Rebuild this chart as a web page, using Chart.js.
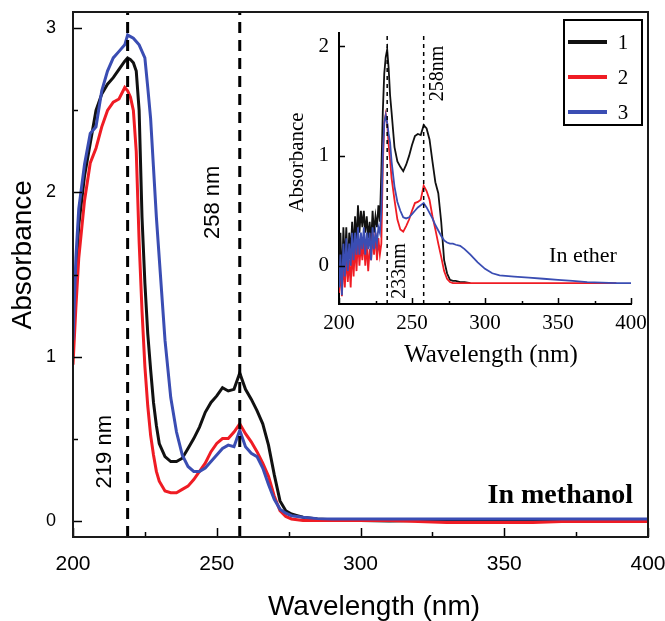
<!DOCTYPE html>
<html>
<head>
<meta charset="utf-8">
<script src="https://cdn.jsdelivr.net/npm/chart.js@4.4.1/dist/chart.umd.min.js"></script>
<style>
    body { margin: 0; background: #fff; }
    #wrap { position: relative; width: 665px; height: 621px; }
    #main { position: absolute; left: 0; top: 0; }
    #inset { position: absolute; left: 280px; top: 0; }
</style>
</head>
<body>
<div id="wrap">
    <canvas id="main" width="665" height="621"></canvas>
    <canvas id="inset" width="385" height="380"></canvas>
</div>
<script>
'use strict';

// main panel - spectra in methanol
var mainWl = [200, 201, 202, 204, 206, 208, 210, 212, 214, 216, 218, 219, 220, 221, 222, 223, 224, 225, 226, 227, 228, 229, 230,
    232, 234, 236, 238, 240, 242, 244, 246, 248, 250, 252, 254, 256, 258, 260, 262, 264, 266, 268, 270, 272, 274, 276, 278, 280,
    285, 290, 300, 310, 320, 330, 340, 350, 360, 370, 380, 390, 400];
var mainAbs1 = [1.05, 1.5, 1.8, 2.1, 2.3, 2.5, 2.6, 2.66, 2.7, 2.75, 2.8, 2.82, 2.81, 2.79, 2.74, 2.5, 1.85, 1.45, 1.14, 0.92, 0.72, 0.58, 0.47,
    0.39, 0.36, 0.36, 0.38, 0.44, 0.5, 0.57, 0.66, 0.72, 0.76, 0.81, 0.79, 0.8, 0.9, 0.8, 0.74, 0.67, 0.59, 0.46, 0.28, 0.12, 0.06, 0.04, 0.03, 0.02,
    0.01, 0.005, 0, -0.003, 0, 0, 0, 0, 0, 0, 0, 0, 0];
var mainAbs2 = [0.95, 1.3, 1.6, 1.95, 2.18, 2.27, 2.4, 2.5, 2.55, 2.57, 2.64, 2.62, 2.58, 2.5, 2.25, 1.7, 1.28, 0.94, 0.7, 0.52, 0.4, 0.3, 0.24,
    0.18, 0.17, 0.17, 0.19, 0.21, 0.25, 0.3, 0.35, 0.42, 0.47, 0.5, 0.5, 0.54, 0.59, 0.53, 0.48, 0.42, 0.35, 0.27, 0.15, 0.06, 0.025, 0.01, 0.005, 0,
    0, 0, 0, 0, -0.005, -0.012, -0.012, -0.012, -0.012, -0.005, -0.005, -0.005, -0.005];
var mainAbs3 = [1.1, 1.6, 1.9, 2.17, 2.36, 2.4, 2.62, 2.74, 2.82, 2.86, 2.9, 2.96, 2.95, 2.94, 2.92, 2.9, 2.86, 2.82, 2.64, 2.45, 2.15, 1.85, 1.6,
    1.1, 0.75, 0.54, 0.4, 0.33, 0.3, 0.3, 0.32, 0.36, 0.4, 0.44, 0.46, 0.45, 0.55, 0.45, 0.41, 0.39, 0.32, 0.22, 0.13, 0.07, 0.045, 0.03, 0.025, 0.02,
    0.012, 0.01, 0.01, 0.01, 0.01, 0.01, 0.01, 0.01, 0.01, 0.01, 0.01, 0.01, 0.01];
var mainPeaks = [219, 258];
var mainXTicks = [200, 250, 300, 350, 400];
var mainXMinor = [225, 275, 325, 375];
var mainYTicks = [0, 1, 2, 3];
var mainYMinor = [0.5, 1.5, 2.5];

// inset - same samples in ether
var insetWl = [200, 201, 202, 203, 204, 205, 206, 207, 208, 209, 210, 211, 212, 213, 214, 215, 216, 217, 218, 219, 220,
    221, 222, 223, 224, 225, 226, 227, 228, 229, 230, 231, 232, 233, 234, 235, 236,
    238, 240, 242, 244, 246, 248, 250, 252, 254, 256, 258, 260, 262, 264, 266, 268, 270, 272, 274, 276, 278, 280,
    283, 286, 290, 295, 300, 305, 310, 320, 330, 340, 350, 360, 370, 380, 390, 400];
var insetAbs1 = [-0.1, 0.3, -0.2, 0.35, 0.0, 0.35, -0.05, 0.3, 0.1, 0.4, 0.15, 0.45, 0.2, 0.55, 0.3, 0.5, 0.35, 0.5, 0.3, 0.45, 0.25,
    0.4, 0.2, 0.5, 0.3, 0.45, 0.35, 0.55, 0.4, 0.85, 1.4, 1.75, 1.9, 1.97, 1.8, 1.55, 1.4,
    1.08, 0.95, 0.9, 0.86, 0.92, 1.0, 1.1, 1.18, 1.2, 1.19, 1.28, 1.25, 1.15, 0.95, 0.76, 0.66, 0.4, 0.05, -0.07, -0.13, -0.14, -0.14,
    -0.15, -0.15, -0.16, null, null, null, null, null, null, null, null, null, null, null, null, null];
var insetAbs2 = [-0.25, -0.05, -0.28, 0.05, -0.2, 0.1, -0.15, 0.05, -0.2, 0.15, -0.1, 0.2, -0.05, 0.25, 0.0, 0.2, 0.05, 0.25, 0.0, 0.2, -0.05,
    0.15, 0.05, 0.3, 0.1, 0.3, 0.05, 0.25, 0.1, 0.2, 0.9, 1.3, 1.38, 1.3, 1.1, 0.96, 0.8,
    0.6, 0.42, 0.33, 0.31, 0.36, 0.42, 0.5, 0.57, 0.58, 0.6, 0.73, 0.68, 0.6, 0.45, 0.33, 0.2, 0.08, -0.05, -0.12, -0.15, -0.16, -0.16,
    -0.16, -0.16, -0.16, -0.16, -0.16, -0.16, -0.16, -0.16, -0.16, -0.16, -0.16, -0.16, -0.16, -0.16, -0.16, null];
var insetAbs3 = [-0.2, 0.1, -0.27, 0.2, -0.1, 0.25, -0.05, 0.2, 0.0, 0.3, 0.05, 0.3, 0.1, 0.35, 0.1, 0.3, 0.15, 0.35, 0.1, 0.3, 0.15,
    0.3, 0.05, 0.35, 0.15, 0.3, 0.2, 0.35, 0.3, 0.5, 1.0, 1.3, 1.37, 1.3, 1.2, 1.12, 0.95,
    0.72, 0.58, 0.5, 0.44, 0.43, 0.44, 0.47, 0.5, 0.53, 0.55, 0.57, 0.53, 0.48, 0.43, 0.37, 0.32, 0.27, 0.23, 0.21, 0.2, 0.2, 0.19,
    0.18, 0.15, 0.1, 0.03, -0.03, -0.07, -0.09, -0.1, -0.11, -0.12, -0.13, -0.14, -0.15, -0.155, -0.16, -0.16];
var insetPeaks = [233, 258];
var insetXTicks = [200, 250, 300, 350, 400];
var insetXMinor = [225, 275, 325, 375];
var insetYTicks = [0, 1, 2];

var seriesLabels = ['1', '2', '3'];
var seriesColors = ['#111111', '#ef1c24', '#3a4db3'];

var SANS = '"Liberation Sans", Arial, sans-serif';
var SERIF = '"Liberation Serif", "Times New Roman", serif';

function points(xs, ys) {
    return xs.map(function (x, i) { return {x: x, y: ys[i]}; });
}

function spectrum(i, xs, ys, width) {
    return {
        label: seriesLabels[i],
        data: points(xs, ys),
        borderColor: seriesColors[i],
        borderWidth: width,
        pointRadius: 0,
        tension: 0,
        fill: false,
        order: 3 - i
    };
}

function peakLine(x, yMin, yMax, width, dash) {
    return {
        data: [{x: x, y: yMin}, {x: x, y: yMax}],
        borderColor: '#000',
        borderWidth: width,
        borderDash: dash,
        pointRadius: 0,
        fill: false,
        order: 0
    };
}

function fixedTicks(list) {
    return function (scale) {
        scale.ticks = list.map(function (v) { return {value: v}; });
    };
}

// tick marks pointing into the plot, plus optional frame
var innerTicks = {
    id: 'innerTicks',
    afterDatasetsDraw: function (chart, args, o) {
        var ctx = chart.ctx, a = chart.chartArea, xs = chart.scales.x, ys = chart.scales.y;
        ctx.save();
        ctx.strokeStyle = '#000';
        ctx.lineWidth = o.width;
        ctx.beginPath();
        function xTick(v, len) {
            var p = Math.round(xs.getPixelForValue(v)) + 0.5;
            ctx.moveTo(p, a.bottom);
            ctx.lineTo(p, a.bottom - len);
        }
        function yTick(v, len) {
            var p = Math.round(ys.getPixelForValue(v)) + 0.5;
            ctx.moveTo(a.left, p);
            ctx.lineTo(a.left + len, p);
        }
        (o.xMajor || []).forEach(function (v) { xTick(v, o.majorLen); });
        (o.xMinor || []).forEach(function (v) { xTick(v, o.minorLen); });
        (o.yMajor || []).forEach(function (v) { yTick(v, o.majorLen); });
        (o.yMinor || []).forEach(function (v) { yTick(v, o.minorLen); });
        ctx.stroke();
        if (o.frame) {
            ctx.lineWidth = o.frame;
            ctx.strokeStyle = '#1a1a1a';
            ctx.strokeRect(a.left, a.top, a.right - a.left, a.bottom - a.top);
        }
        ctx.restore();
    }
};

// free text placed in data coordinates
var notes = {
    id: 'notes',
    afterDatasetsDraw: function (chart, args, o) {
        var ctx = chart.ctx, xs = chart.scales.x, ys = chart.scales.y;
        (o.items || []).forEach(function (n) {
            ctx.save();
            ctx.translate(xs.getPixelForValue(n.x), ys.getPixelForValue(n.y));
            if (n.rot) ctx.rotate(n.rot * Math.PI / 180);
            ctx.font = n.font;
            ctx.fillStyle = '#000';
            ctx.textAlign = n.align || 'center';
            ctx.textBaseline = n.baseline || 'middle';
            ctx.fillText(n.text, 0, 0);
            ctx.restore();
        });
    }
};

// boxed legend inside the inset
var boxLegend = {
    id: 'boxLegend',
    afterDraw: function (chart, args, o) {
        var ctx = chart.ctx;
        ctx.save();
        ctx.fillStyle = '#fff';
        ctx.fillRect(o.left, o.top, o.width, o.height);
        ctx.lineWidth = 2;
        ctx.strokeStyle = '#000';
        ctx.strokeRect(o.left, o.top, o.width, o.height);
        var rows = chart.data.datasets.filter(function (d) { return d.label; });
        rows.forEach(function (d, i) {
            var y = o.top + o.firstRow + i * o.rowGap;
            ctx.strokeStyle = d.borderColor;
            ctx.lineWidth = 4;
            ctx.beginPath();
            ctx.moveTo(o.left + 4, y);
            ctx.lineTo(o.left + 4 + o.lineLen, y);
            ctx.stroke();
            ctx.fillStyle = '#000';
            ctx.font = o.font;
            ctx.textAlign = 'center';
            ctx.textBaseline = 'middle';
            ctx.fillText(d.label, o.left + o.textX, y + 1);
        });
        ctx.restore();
    }
};

var MAIN_YMIN = -0.1, MAIN_YMAX = 3.1;
var mainSets = [
    spectrum(0, mainWl, mainAbs1, 3),
    spectrum(1, mainWl, mainAbs2, 3),
    spectrum(2, mainWl, mainAbs3, 3)
];
mainPeaks.forEach(function (p) { mainSets.push(peakLine(p, MAIN_YMIN, MAIN_YMAX, 3, [11, 7])); });

new Chart(document.getElementById('main'), {
    type: 'line',
    data: {datasets: mainSets},
    options: {
        responsive: false,
        animation: false,
        layout: {padding: {left: 0, top: 12, right: 17, bottom: 0}},
        plugins: {
            legend: {display: false},
            tooltip: {enabled: false},
            innerTicks: {
                xMajor: mainXTicks, xMinor: mainXMinor,
                yMajor: mainYTicks, yMinor: mainYMinor,
                majorLen: 9, minorLen: 5, width: 1.5, frame: 2
            },
            notes: {
                items: [
                    {text: '219 nm', x: 211.1, y: 0.42, rot: -90, font: '22px ' + SANS},
                    {text: '258 nm', x: 248.7, y: 1.94, rot: -90, font: '22px ' + SANS},
                    {text: 'In methanol', x: 394.8, y: 0.107, align: 'right', baseline: 'alphabetic', font: 'bold 28px ' + SERIF},
                    {text: 'Wavelength (nm)', x: 304.7, y: -0.527, font: '28px ' + SANS},
                    {text: 'Absorbance', x: 182.6, y: 1.62, rot: -90, font: '28px ' + SANS}
                ]
            }
        },
        scales: {
            x: {
                type: 'linear', min: 200, max: 400,
                afterBuildTicks: fixedTicks(mainXTicks),
                afterFit: function (s) { s.height = 84; s.paddingLeft = 0; s.paddingRight = 0; },
                grid: {display: false, drawTicks: false},
                border: {display: false},
                ticks: {autoSkip: false, maxRotation: 0, padding: 15, color: '#000', font: {family: SANS, size: 21}}
            },
            y: {
                type: 'linear', min: MAIN_YMIN, max: MAIN_YMAX,
                afterBuildTicks: fixedTicks(mainYTicks),
                afterFit: function (s) { s.width = 73; s.paddingTop = 0; s.paddingBottom = 0; },
                grid: {display: false, drawTicks: false},
                border: {display: false},
                ticks: {padding: 17, color: '#000', font: {family: SANS, size: 18}}
            }
        }
    },
    plugins: [innerTicks, notes]
});

var INSET_YMIN = -0.35, INSET_YMAX = 2.12;
var insetSets = [
    spectrum(0, insetWl, insetAbs1, 1.8),
    spectrum(1, insetWl, insetAbs2, 1.8),
    spectrum(2, insetWl, insetAbs3, 1.8)
];
insetPeaks.forEach(function (p) { insetSets.push(peakLine(p, INSET_YMIN, INSET_YMAX, 1.5, [4, 4])); });

new Chart(document.getElementById('inset'), {
    type: 'line',
    data: {datasets: insetSets},
    options: {
        responsive: false,
        animation: false,
        layout: {padding: {left: 0, top: 33, right: 34, bottom: 0}},
        plugins: {
            legend: {display: false},
            tooltip: {enabled: false},
            innerTicks: {
                xMajor: insetXTicks, xMinor: insetXMinor,
                yMajor: insetYTicks,
                majorLen: 6, minorLen: 3, width: 1.5
            },
            notes: {
                items: [
                    {text: '233nm', x: 241.8, y: -0.05, rot: -90, font: '20px ' + SERIF},
                    {text: '258nm', x: 267.8, y: 1.75, rot: -90, font: '20px ' + SERIF},
                    {text: 'In ether', x: 367.1, y: 0.03, baseline: 'alphabetic', font: '22px ' + SERIF},
                    {text: 'Wavelength (nm)', x: 304.1, y: -0.82, font: '25px ' + SERIF},
                    {text: 'Absorbance', x: 171.9, y: 0.94, rot: -90, font: '21px ' + SERIF}
                ]
            },
            boxLegend: {left: 284, top: 20, width: 78, height: 105, firstRow: 22, rowGap: 35, lineLen: 39, textX: 59, font: '21px ' + SERIF}
        },
        scales: {
            x: {
                type: 'linear', min: 200, max: 400,
                afterBuildTicks: fixedTicks(insetXTicks),
                afterFit: function (s) { s.height = 76; s.paddingLeft = 0; s.paddingRight = 0; },
                grid: {display: false, drawTicks: false},
                border: {display: true, color: '#000', width: 2},
                ticks: {autoSkip: false, maxRotation: 0, padding: 7, color: '#000', font: {family: SERIF, size: 21}}
            },
            y: {
                type: 'linear', min: INSET_YMIN, max: INSET_YMAX,
                afterBuildTicks: fixedTicks(insetYTicks),
                afterFit: function (s) { s.width = 59; s.paddingTop = 0; s.paddingBottom = 0; },
                grid: {display: false, drawTicks: false},
                border: {display: true, color: '#000', width: 2},
                ticks: {padding: 10, color: '#000', font: {family: SERIF, size: 21}}
            }
        }
    },
    plugins: [innerTicks, notes, boxLegend]
});
</script>
</body>
</html>
